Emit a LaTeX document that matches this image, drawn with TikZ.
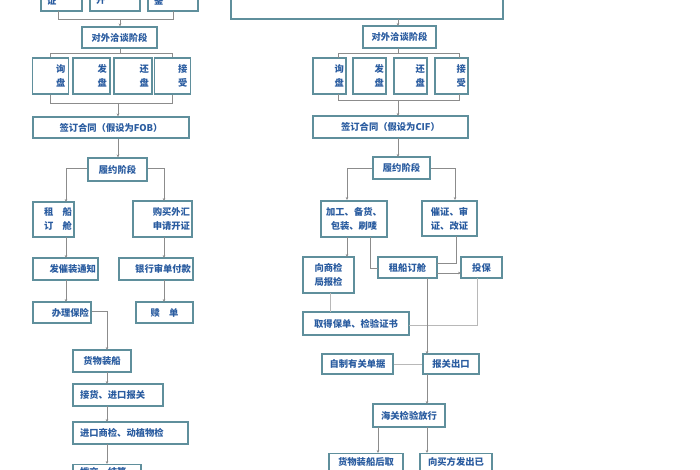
\documentclass[tikz,border=0pt]{standalone}
\usepackage{fontspec}
\newfontfamily\cjk{Noto Sans CJK SC}
\usetikzlibrary{arrows.meta}
\definecolor{boxc}{HTML}{5F8F9C}
\definecolor{linec}{HTML}{8C8C8C}
\definecolor{lightc}{HTML}{B8B8B8}
\definecolor{txtc}{HTML}{2A5CA0}
\tikzset{
  box/.style={draw=boxc, line width=1.1pt, inner sep=0pt, fill=white, align=center,
    font=\cjk\bfseries\fontsize{9.3pt}{14pt}\selectfont, text=txtc},
  conn/.style={draw=linec, line width=0.8pt},
  lconn/.style={draw=lightc, line width=0.8pt},
  arr/.style={conn, -{Stealth[length=3pt,width=2.6pt]}},
}
\begin{document}
\begin{tikzpicture}[x=1pt,y=-1pt]
\useasboundingbox (0,0) rectangle (700,470);
\clip (0,0) rectangle (700,470);
\fill[white] (0,0) rectangle (700,470);

% ---------------- left column ----------------
\node[box, minimum width=41pt, minimum height=21pt, text width=29pt, align=left] (t1) at (61.5,0.5) {证};
\node[box, minimum width=50pt, minimum height=21pt, text width=38pt, align=left] (t2) at (115,0.5) {开};
\node[box, minimum width=50pt, minimum height=21pt, text width=38pt, align=left] (t3) at (173,0.5) {鉴};
\coordinate (tb1) at (58,19); \coordinate (tb3) at (173,19); \coordinate (tbm) at (120,19);
\draw[conn] (58,11) -- (tb1) -- (tb3) -- (173,11);

\node[box, minimum width=75pt, minimum height=21pt] (wl) at (119.5,37.5) {对外洽谈阶段};
\draw[arr] (tbm) -- (tbm |- wl.north);

\node[box, minimum width=36pt, minimum height=36pt, text width=30pt, align=right] (l1) at (50.5,76) {询\\盘};
\node[box, minimum width=37pt, minimum height=36pt, text width=31pt, align=right] (l2) at (91.5,76) {发\\盘};
\node[box, minimum width=38pt, minimum height=36pt, text width=32pt, align=right] (l3) at (133,76) {还\\盘};
\node[box, minimum width=36pt, minimum height=36pt, text width=30pt, align=right] (l4) at (172.5,76) {接\\受};
\coordinate (lbt) at (120,53);
\draw[conn] (wl.south -| lbt) -- (lbt);
\draw[conn] (l1.north) -- (l1.north |- lbt) -- (l4.north |- lbt) -- (l4.north);
\coordinate (lbb) at (118,103);
\draw[conn] (l1.south) -- (l1.south |- lbb) -- (l4.south |- lbb) -- (l4.south);

\node[box, minimum width=156pt, minimum height=21pt] (cl) at (111,127.5) {签订合同（假设为FOB）};
\draw[arr] (lbb) -- (lbb |- cl.north);

\node[box, minimum width=59pt, minimum height=23pt] (lvl) at (117.5,169.5) {履约阶段};
\draw[arr] (cl.south -| lbb) -- (lbb |- lvl.north);

\node[box, minimum width=41pt, minimum height=35pt, text width=37pt, align=right] (zcl) at (53.5,219.5) {租　船\\订　舱};
\node[box, minimum width=59pt, minimum height=36pt, text width=55pt, align=right] (gml) at (162.5,219) {购买外汇\\申请开证};
\draw[arr] (lvl.west |- 0,168) -- (66,168) -- (66,202);
\draw[arr] (lvl.east |- 0,168) -- (164,168) -- (164,201);

\node[box, minimum width=65pt, minimum height=22pt, text width=61pt, align=right] (fcl) at (65.5,269) {发催装通知};
\node[box, minimum width=74pt, minimum height=22pt, text width=70pt, align=right] (yhl) at (156,269) {银行审单付款};
\draw[arr] (66,237) -- (66,258);
\draw[arr] (164,237) -- (164,258);

\node[box, minimum width=58pt, minimum height=21pt, text width=54pt, align=right] (bll) at (62,312.5) {办理保险};
\node[box, minimum width=57pt, minimum height=21pt] (sdl) at (164.5,312.5) {赎　单};
\draw[arr] (66,280) -- (66,302);
\draw[arr] (164,280) -- (164,302);

\node[box, minimum width=58pt, minimum height=22pt] (hwl) at (102,361) {货物装船};
\draw[arr] (bll.east |- 0,311) -- (107,311) -- (107,350);

\node[box, minimum width=90pt, minimum height=22pt, text width=76pt, align=left] (jhl) at (118,395) {接货、进口报关};
\node[box, minimum width=115pt, minimum height=22pt, text width=101pt, align=left] (jkl) at (130.5,433) {进口商检、动植物检};
\node[box, minimum width=68pt, text width=54pt, align=left, anchor=north, text height=11pt, text depth=13pt] (jsl) at (107,464) {拨交、结算};
\draw[arr] (107,372) -- (107,384);
\draw[arr] (107,406) -- (107,422);
\draw[arr] (107,444) -- (107,464);

% ---------------- right column ----------------
\node[box, minimum width=272pt, minimum height=39pt] (topr) at (367,-0.5) {};
\node[box, minimum width=73pt, minimum height=22pt] (wr) at (399.5,37) {对外洽谈阶段};
\draw[arr] (398,19) -- (398,26);

\node[box, minimum width=33pt, minimum height=36pt, text width=29pt, align=right] (r1) at (329.5,76) {询\\盘};
\node[box, minimum width=33pt, minimum height=36pt, text width=29pt, align=right] (r2) at (369.5,76) {发\\盘};
\node[box, minimum width=33pt, minimum height=36pt, text width=29pt, align=right] (r3) at (410.5,76) {还\\盘};
\node[box, minimum width=33pt, minimum height=36pt, text width=29pt, align=right] (r4) at (451.5,76) {接\\受};
\draw[conn] (398,48) -- (398,53);
\draw[conn] (338,58) -- (338,53) -- (459,53) -- (459,58);
\draw[conn] (338,94) -- (338,100) -- (459,100) -- (459,94);

\node[box, minimum width=155pt, minimum height=22pt] (cr) at (390.5,127) {签订合同（假设为CIF）};
\draw[arr] (398,100) -- (398,116);

\node[box, minimum width=57pt, minimum height=22pt] (lvr) at (401.5,168) {履约阶段};
\draw[arr] (398,138) -- (398,157);

\node[box, minimum width=66pt, minimum height=36pt] (jgr) at (354,219) {加工、备货、\\包装、刷唛};
\node[box, minimum width=55pt, minimum height=35pt] (czr) at (449.5,218.5) {催证、审\\证、改证};
\draw[arr] (lvr.west) -- (347,168) -- (347,200);
\draw[arr] (lvr.east) -- (455,168) -- (455,200);

\node[box, minimum width=51pt, minimum height=36pt] (xsj) at (328.5,275) {向商检\\局报检};
\node[box, minimum width=59pt, minimum height=21pt] (zcr) at (407.5,267.5) {租船订舱};
\node[box, minimum width=41pt, minimum height=21pt] (tbr) at (481.5,267.5) {投保};
\draw[arr] (347,237) -- (347,257);
\draw[conn] (370,237) -- (370,268) -- (378,268);
\draw[conn] (456,236) -- (456,263) -- (437,263);
\draw[arr] (437,273) -- (461,273);

\node[box, minimum width=106pt, minimum height=23pt] (qdr) at (356,323.5) {取得保单、检验证书};
\draw[lconn] (330,293) -- (330,312);
\draw[lconn] (477,278) -- (477,325) -- (409,325);

\node[box, minimum width=56pt, minimum height=20pt] (bgr) at (451,364) {报关出口};
\node[box, minimum width=71pt, minimum height=20pt] (zzr) at (357.5,364) {自制有关单据};
\draw[arr] (427,278) -- (427,354);
\draw[lconn] (zzr.east) -- (bgr.west);

\node[box, minimum width=72pt, minimum height=23pt] (hgr) at (409,415.5) {海关检验放行};
\draw[arr] (427,374) -- (427,404);

\node[box, minimum width=74pt, anchor=north, text height=12pt, text depth=14pt] (hwq) at (366,453) {货物装船后取};
\node[box, minimum width=72pt, anchor=north, text height=12pt, text depth=14pt] (xmf) at (456,453) {向买方发出已};
\draw[arr] (378,427) -- (378,453);
\draw[arr] (427,427) -- (427,453);
\end{tikzpicture}
\end{document}
